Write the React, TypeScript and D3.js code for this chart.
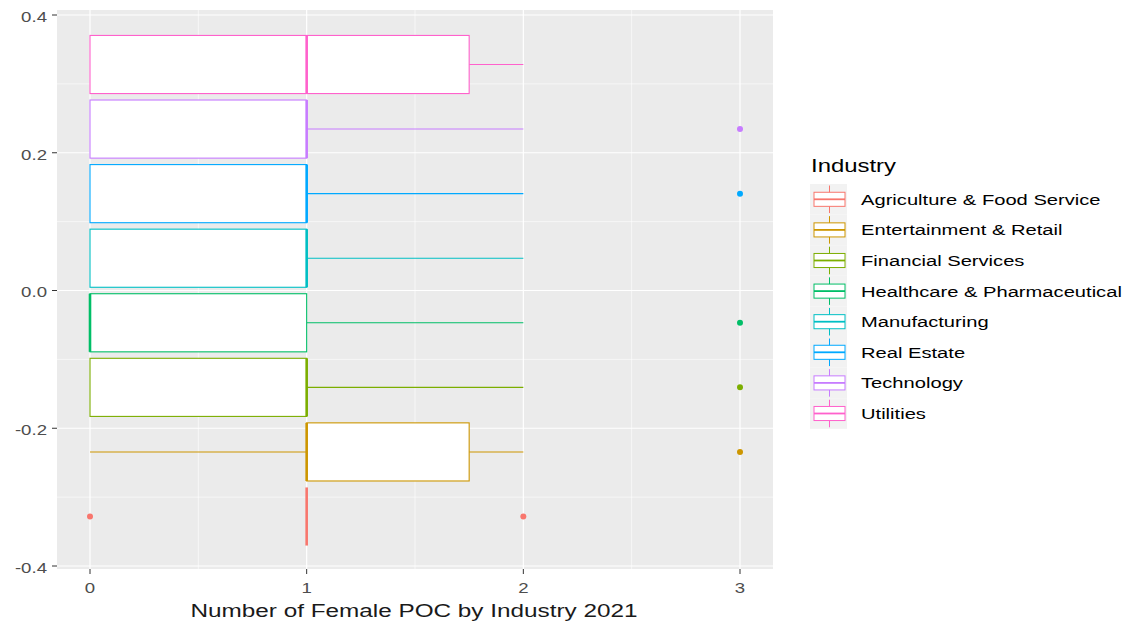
import React from "react";
import * as d3 from "d3";

const industries = [
  "Agriculture & Food Service",
  "Entertainment & Retail",
  "Financial Services",
  "Healthcare & Pharmaceutical",
  "Manufacturing",
  "Real Estate",
  "Technology",
  "Utilities",
];
const colors = ["#F8766D", "#CD9600", "#7CAE00", "#00BE67", "#00BFC4", "#00A9FF", "#C77CFF", "#FF61CC"];
const q1 = [1, 1, 0, 0, 0, 0, 0, 0];
const median = [1, 1, 1, 0, 1, 1, 1, 1];
const q3 = [1, 1.75, 1, 1, 1, 1, 1, 1.75];
const whiskerLow = [1, 0, 0, 0, 0, 0, 0, 0];
const whiskerHigh = [1, 2, 2, 2, 2, 2, 2, 2];
const outliers: number[][] = [[0, 2], [3], [3], [3], [], [3], [3], []];

const xTicks = [0, 1, 2, 3];
const xMinor = [0.5, 1.5, 2.5];
const yTicks = [-0.4, -0.2, 0, 0.2, 0.4];
const yMinor = [-0.3, -0.1, 0.1, 0.3];

const xTitle = "Number of Female POC by Industry 2021";
const legendTitle = "Industry";

const W = 1135;
const H = 625;
const panel = { left: 57, right: 773, top: 10, bottom: 569 };
const FONT = "'Liberation Sans', Arial, Helvetica, sans-serif";

function SText(props: { x: number; y: number; sx: number; anchor?: string; size: number; fill?: string; dy?: string; children: React.ReactNode }) {
  const { x, y, sx, anchor = "start", size, fill = "#000", dy, children } = props;
  return (
    <g transform={`translate(${x},${y}) scale(${sx},1)`}>
      <text x={0} y={0} dy={dy} textAnchor={anchor} fontSize={size} fill={fill} fontFamily={FONT}>
        {children}
      </text>
    </g>
  );
}

export default function App() {
  const x = d3.scaleLinear().domain([0, 3]).range([90, 740]);
  const y = d3.scaleLinear().domain([-0.4, 0.4]).range([566, 15]);
  const n = industries.length;
  const slot = 0.75 / n;
  const half = (slot * 0.9) / 2;
  const center = (i: number) => -0.375 + slot * (i + 0.5);

  const legendX = 813;
  const legendY0 = 184;
  const keyH = 30.6;
  const keyW = 34;

  return (
    <svg width={W} height={H} style={{ position: "absolute", left: 0, top: 0, background: "#fff" }}>
      <rect x={panel.left} y={panel.top} width={panel.right - panel.left} height={panel.bottom - panel.top} fill="#EBEBEB" />
      {xMinor.map((v) => (
        <line key={"xm" + v} x1={x(v)} x2={x(v)} y1={panel.top} y2={panel.bottom} stroke="#fff" strokeWidth={0.6} />
      ))}
      {yMinor.map((v) => (
        <line key={"ym" + v} y1={y(v)} y2={y(v)} x1={panel.left} x2={panel.right} stroke="#fff" strokeWidth={0.6} />
      ))}
      {xTicks.map((v) => (
        <line key={"xg" + v} x1={x(v)} x2={x(v)} y1={panel.top} y2={panel.bottom} stroke="#fff" strokeWidth={1.2} />
      ))}
      {yTicks.map((v) => (
        <line key={"yg" + v} y1={y(v)} y2={y(v)} x1={panel.left} x2={panel.right} stroke="#fff" strokeWidth={1.2} />
      ))}

      {industries.map((name, i) => {
        const c = colors[i];
        const cy = y(center(i));
        const top = y(center(i) + half);
        const bot = y(center(i) - half);
        return (
          <g key={name}>
            <line x1={x(whiskerLow[i])} x2={x(q1[i])} y1={cy} y2={cy} stroke={c} strokeWidth={1.1} />
            <line x1={x(q3[i])} x2={x(whiskerHigh[i])} y1={cy} y2={cy} stroke={c} strokeWidth={1.1} />
            <rect x={x(q1[i])} y={top} width={x(q3[i]) - x(q1[i])} height={bot - top} fill="#fff" stroke={c} strokeWidth={1.1} />
            <line x1={x(median[i])} x2={x(median[i])} y1={top} y2={bot} stroke={c} strokeWidth={2.6} />
            {outliers[i].map((o, j) => (
              <circle key={j} cx={x(o)} cy={cy} r={3} fill={c} />
            ))}
          </g>
        );
      })}

      {yTicks.map((v) => (
        <g key={"yt" + v}>
          <line x1={panel.left - 5} x2={panel.left} y1={y(v)} y2={y(v)} stroke="#333" strokeWidth={1} />
          <SText x={panel.left - 10} y={y(v) + 2} sx={1.33} dy="0.35em" anchor="end" size={14} fill="#4D4D4D">
            {d3.format(".1f")(v).replace("−", "-")}
          </SText>
        </g>
      ))}
      {xTicks.map((v) => (
        <g key={"xt" + v}>
          <line x1={x(v)} x2={x(v)} y1={panel.bottom} y2={panel.bottom + 5} stroke="#333" strokeWidth={1} />
          <SText x={x(v)} y={593} sx={1.33} anchor="middle" size={14} fill="#4D4D4D">
            {v}
          </SText>
        </g>
      ))}
      <text
        x={(panel.left + panel.right) / 2 - 1}
        y={617}
        textAnchor="middle"
        fontSize={17.5}
        fill="#1a1a1a"
        fontFamily={FONT}
        textLength={447}
        lengthAdjust="spacingAndGlyphs"
      >
        {xTitle}
      </text>

      <text x={811} y={172} fontSize={18} fill="#000" fontFamily={FONT} textLength={85} lengthAdjust="spacingAndGlyphs">
        {legendTitle}
      </text>
      {industries.map((name, i) => {
        const c = colors[i];
        const ky = legendY0 + i * keyH;
        const bx0 = legendX + 1;
        const bx1 = legendX + keyW - 2;
        const mx = (bx0 + bx1) / 2;
        return (
          <g key={"lg" + name}>
            <rect x={legendX - 3} y={ky} width={keyW + 3} height={keyH} fill="#F2F2F2" />
            <line x1={mx} x2={mx} y1={ky + keyH * 0.05} y2={ky + keyH * 0.95} stroke={c} strokeWidth={1} />
            <rect x={bx0} y={ky + keyH * 0.27} width={bx1 - bx0} height={keyH * 0.46} fill="#fff" stroke={c} strokeWidth={1} />
            <line x1={bx0} x2={bx1} y1={ky + keyH / 2} y2={ky + keyH / 2} stroke={c} strokeWidth={1.8} />
            <SText x={861} y={ky + keyH / 2} sx={1.3} dy="0.35em" size={15.5}>
              {name}
            </SText>
          </g>
        );
      })}
    </svg>
  );
}
